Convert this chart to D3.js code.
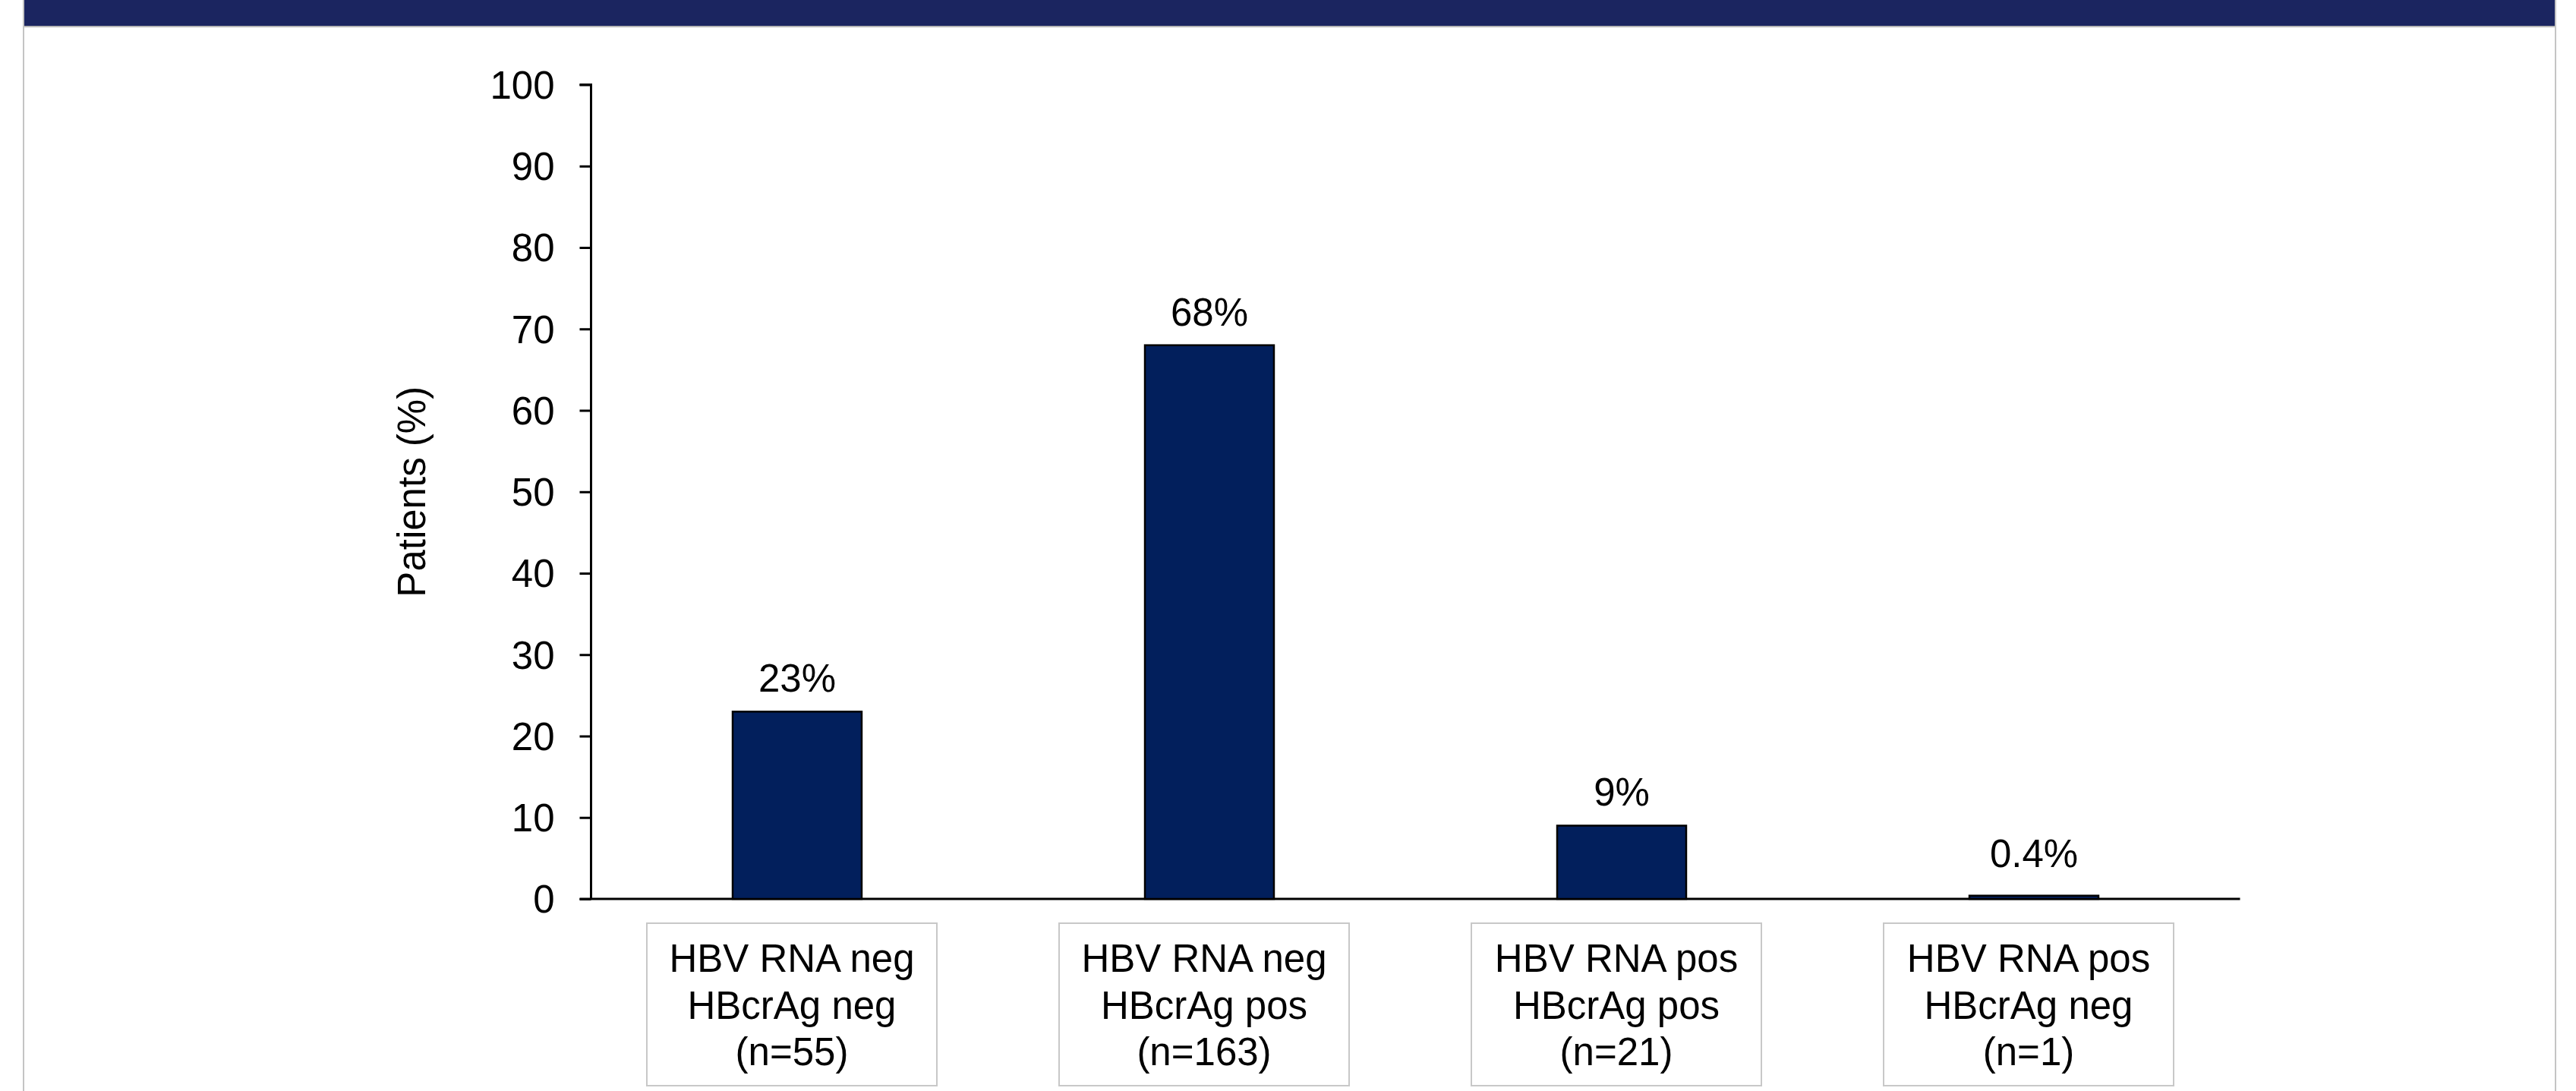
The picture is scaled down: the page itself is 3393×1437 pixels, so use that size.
<!DOCTYPE html>
<html>
<head>
<meta charset="utf-8">
<script src="https://cdn.jsdelivr.net/npm/d3@7"></script>
<style>
  html, body { margin: 0; padding: 0; background: #ffffff; }
  svg { display: block; }
  text { font-family: "Liberation Sans", Arial, sans-serif; fill: #000; }
</style>
</head>
<body>
<svg id="chart" width="3393" height="1437"></svg>
<script>
// Patient groups by HBV RNA / HBcrAg status
const groupRna   = ["HBV RNA neg", "HBV RNA neg", "HBV RNA pos", "HBV RNA pos"];
const groupCrAg  = ["HBcrAg neg", "HBcrAg pos", "HBcrAg pos", "HBcrAg neg"];
const groupN     = [55, 163, 21, 1];
const patientPct = [23, 68, 9, 0.4];
const pctLabels  = ["23%", "68%", "9%", "0.4%"];
const yTicks     = [0, 10, 20, 30, 40, 50, 60, 70, 80, 90, 100];

const W = 3393, H = 1437;
const svg = d3.select("#chart");

// Header band and thin frame
svg.append("rect").attr("x", 32).attr("y", 0).attr("width", 3333).attr("height", 34)
  .attr("fill", "#1b2560");
svg.append("line").attr("x1", 31).attr("x2", 3366).attr("y1", 35).attr("y2", 35)
  .attr("stroke", "#b8b8b8").attr("stroke-width", 2);
svg.append("line").attr("x1", 31).attr("x2", 31).attr("y1", 0).attr("y2", H)
  .attr("stroke", "#c4c4c4").attr("stroke-width", 2);
svg.append("line").attr("x1", 3366).attr("x2", 3366).attr("y1", 0).attr("y2", H)
  .attr("stroke", "#c4c4c4").attr("stroke-width", 2);

const plot = { left: 778.5, right: 2950.5, top: 111.5, bottom: 1184 };

const idx = d3.range(patientPct.length);
const x = d3.scaleBand()
  .domain(idx)
  .range([plot.left, plot.right])
  .paddingInner(0.687)
  .paddingOuter(0.3435);

const y = d3.scaleLinear().domain([0, 100]).range([plot.bottom, plot.top]);

// Y axis
const yAxis = d3.axisLeft(y).tickValues(yTicks).tickSize(15).tickPadding(33);
const gy = svg.append("g").attr("transform", `translate(${plot.left},0)`).call(yAxis);
gy.select(".domain").attr("stroke", "#000").attr("stroke-width", 3)
  .attr("d", `M-15,${y(100)}H0V${y(0)}`);
gy.selectAll(".tick line").attr("stroke", "#000").attr("stroke-width", 3);
gy.selectAll(".tick text")
  .attr("font-size", 51).attr("fill", "#000")
  .attr("font-family", "Liberation Sans, Arial, sans-serif")
  .attr("dy", "0.35em");

// X axis baseline
const xAxis = d3.axisBottom(x).tickSize(0).tickFormat("");
const gx = svg.append("g").attr("transform", `translate(0,${plot.bottom})`).call(xAxis);
gx.select(".domain").attr("stroke", "#000").attr("stroke-width", 3)
  .attr("d", `M${plot.left - 15},0H${plot.right}`);

// Y axis title
svg.append("text")
  .attr("transform", `translate(547,${(plot.top + plot.bottom) / 2}) rotate(-90)`)
  .attr("text-anchor", "middle")
  .attr("dominant-baseline", "middle")
  .attr("font-size", 51)
  .text("Patients (%)");

// Bars
svg.append("g").selectAll("rect").data(idx).join("rect")
  .attr("x", i => x(i))
  .attr("y", i => y(patientPct[i]))
  .attr("width", x.bandwidth())
  .attr("height", i => y(0) - y(patientPct[i]))
  .attr("fill", "#021f5c")
  .attr("stroke", "#000")
  .attr("stroke-width", 2.5);

// Value labels, kept clear of the baseline for very short bars
svg.append("g").selectAll("text").data(idx).join("text")
  .attr("x", i => x(i) + x.bandwidth() / 2)
  .attr("y", i => Math.min(y(patientPct[i]) - 26, plot.bottom - 42))
  .attr("text-anchor", "middle")
  .attr("font-size", 51)
  .text(i => pctLabels[i]);

// Category label boxes
const boxW = 382, boxTop = 1216, boxH = 214;
const cat = svg.append("g").selectAll("g").data(idx).join("g")
  .attr("transform", i => `translate(${x(i) + x.bandwidth() / 2 - 7},0)`);
cat.append("rect")
  .attr("x", -boxW / 2).attr("y", boxTop)
  .attr("width", boxW).attr("height", boxH)
  .attr("fill", "#fff").attr("stroke", "#c8c8c8").attr("stroke-width", 2);
const lines = i => [groupRna[i], groupCrAg[i], `(n=${groupN[i]})`];
cat.each(function (i) {
  d3.select(this).selectAll("text").data(lines(i)).join("text")
    .attr("x", 0)
    .attr("y", (d, k) => boxTop + 64 + k * 61.5)
    .attr("text-anchor", "middle")
    .attr("font-size", 51)
    .text(d => d);
});
</script>
</body>
</html>
